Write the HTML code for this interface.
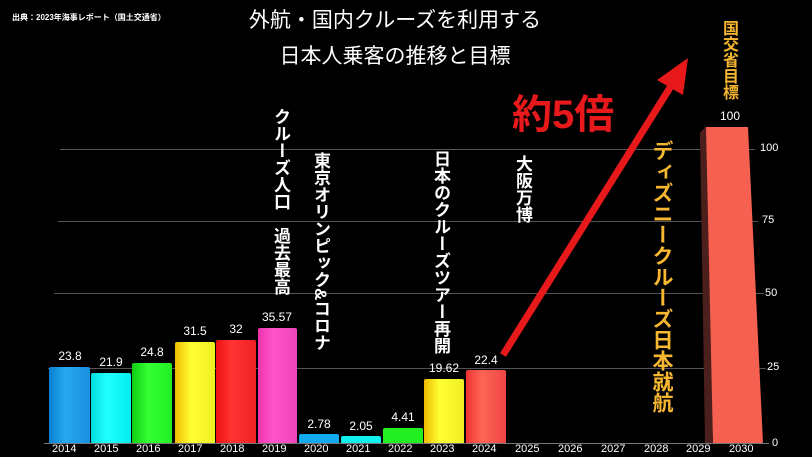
<!DOCTYPE html>
<html><head><meta charset="utf-8"><style>
body{margin:0;width:812px;height:457px;background:#000;overflow:hidden;position:relative;font-family:"Liberation Sans","Noto Sans CJK JP",sans-serif;color:#fff}
.a{position:absolute}
.bar{position:absolute;border-radius:2px 2px 0 0}
.v{position:absolute;writing-mode:vertical-rl;font-weight:bold;white-space:nowrap;line-height:1}
.yl{position:absolute;font-size:11px;top:443px}
.lb{position:absolute;font-size:12px;text-align:center;width:50px}
.gl{position:absolute;height:1px;background:#555}
</style></head><body>
<div class="a" style="left:12px;top:12px;font-size:8px;font-weight:bold">出典：2023年海事レポート（国土交通省）</div>
<div class="a" style="left:200px;top:3px;width:390px;text-align:center;font-size:21px;line-height:36px">外航・国内クルーズを利用する<br>日本人乗客の推移と目標</div>

<div class="gl" style="left:60px;width:695px;top:149px"></div>
<div class="gl" style="left:58px;width:700px;top:221px"></div>
<div class="gl" style="left:54px;width:710px;top:293px"></div>
<div class="gl" style="left:48px;width:718px;top:368px"></div>
<div class="gl" style="left:44px;width:725px;top:443px;background:#777"></div>
<div class="a" style="left:760px;top:142px;font-size:11px">100</div>
<div class="a" style="left:762px;top:214px;font-size:11px">75</div>
<div class="a" style="left:765px;top:287px;font-size:11px">50</div>
<div class="a" style="left:767px;top:361px;font-size:11px">25</div>
<div class="a" style="left:772px;top:437px;font-size:11px">0</div>

<div class="bar" style="left:49px;width:41px;top:367px;height:76px;background:linear-gradient(90deg,#0b7fd0,#25a8f0 40%,#1a90e0)"></div>
<div class="bar" style="left:91px;width:40px;top:373px;height:70px;background:linear-gradient(90deg,#0dd,#2ff 40%,#0ee)"></div>
<div class="bar" style="left:132px;width:40px;top:363px;height:80px;background:linear-gradient(90deg,#1c1,#3f3 40%,#2e2)"></div>
<div class="bar" style="left:175px;width:40px;top:342px;height:101px;background:linear-gradient(90deg,#eb0,#ff3 40%,#ee2)"></div>
<div class="bar" style="left:216px;width:40px;top:340px;height:103px;background:linear-gradient(90deg,#e11,#f33 40%,#e22)"></div>
<div class="bar" style="left:258px;width:39px;top:328px;height:115px;background:linear-gradient(90deg,#e3a,#f5c 40%,#e4b)"></div>
<div class="bar" style="left:299px;width:40px;top:434px;height:9px;background:#1ae"></div>
<div class="bar" style="left:341px;width:40px;top:436px;height:7px;background:#1ee"></div>
<div class="bar" style="left:383px;width:40px;top:428px;height:15px;background:#2e2"></div>
<div class="bar" style="left:424px;width:40px;top:379px;height:64px;background:linear-gradient(90deg,#eb0,#ff3 40%,#ee2)"></div>
<div class="bar" style="left:466px;width:40px;top:370px;height:73px;background:linear-gradient(90deg,#e33,#f65 40%,#e44)"></div>
<svg class="a" style="left:0;top:0" width="812" height="457">
<polygon points="700,133 706,127 748,127 763,443 713,443" fill="#f56050"/>
<polygon points="700,133 706,127 713,443 705,443" fill="#4a1f1c"/>
<line x1="503" y1="355" x2="676" y2="78" stroke="#e8191b" stroke-width="7"/>
<polygon points="688,58 657,80 683,95" fill="#e8191b"/>
</svg>

<div class="lb" style="left:45px;top:349px">23.8</div>
<div class="lb" style="left:86px;top:355px">21.9</div>
<div class="lb" style="left:127px;top:345px">24.8</div>
<div class="lb" style="left:170px;top:324px">31.5</div>
<div class="lb" style="left:211px;top:322px">32</div>
<div class="lb" style="left:252px;top:310px">35.57</div>
<div class="lb" style="left:294px;top:417px">2.78</div>
<div class="lb" style="left:336px;top:419px">2.05</div>
<div class="lb" style="left:378px;top:410px">4.41</div>
<div class="lb" style="left:419px;top:361px">19.62</div>
<div class="lb" style="left:461px;top:353px">22.4</div>
<div class="lb" style="left:705px;top:109px">100</div>

<div class="yl" style="left:52px">2014</div><div class="yl" style="left:94px">2015</div><div class="yl" style="left:136px">2016</div><div class="yl" style="left:178px">2017</div><div class="yl" style="left:220px">2018</div><div class="yl" style="left:262px">2019</div><div class="yl" style="left:304px">2020</div><div class="yl" style="left:346px">2021</div><div class="yl" style="left:388px">2022</div><div class="yl" style="left:430px">2023</div><div class="yl" style="left:472px">2024</div><div class="yl" style="left:515px">2025</div><div class="yl" style="left:558px">2026</div><div class="yl" style="left:601px">2027</div><div class="yl" style="left:644px">2028</div><div class="yl" style="left:686px">2029</div><div class="yl" style="left:729px">2030</div>

<div class="v" style="left:272px;top:108px;font-size:17px">クルーズ人口　過去最高</div>
<div class="v" style="left:312px;top:152px;font-size:17px">東京オリンピック&amp;コロナ</div>
<div class="v" style="left:432px;top:150px;font-size:17px">日本のクルーズツアー再開</div>
<div class="v" style="left:514px;top:155px;font-size:17px">大阪万博</div>
<div class="v" style="left:651px;top:140px;font-size:21px;color:#f7b731">ディズニークルーズ日本就航</div>
<div class="v" style="left:720px;top:20px;font-size:16px;color:#f7b731">国交省目標</div>
<div class="a" style="left:512px;top:82px;font-size:40px;font-weight:bold;color:#e8191b">約5倍</div>
</body></html>
